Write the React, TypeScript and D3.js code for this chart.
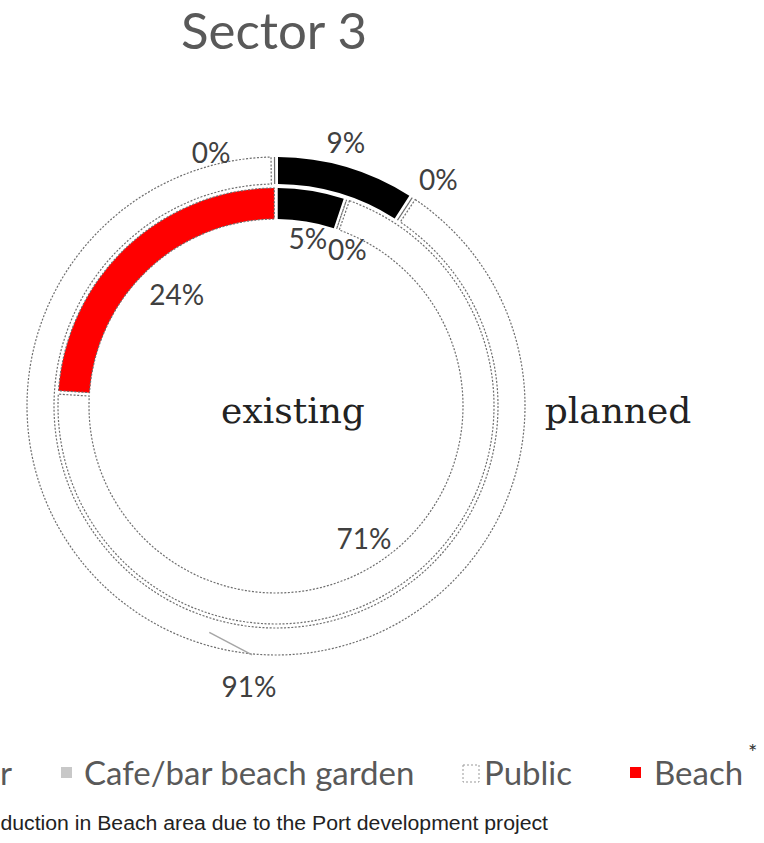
import * as d3 from "d3";

const categories = ["Bar", "Cafe/bar beach garden", "Public", "Beach"];
const existing = [5, 0, 71, 24];
const planned = [9, 0, 91, 0];
const colors = ["#000000", "#c8c8c8", "#ffffff", "#ff0000"];

// label tweaks per slice: angle shift (deg) and radius
const innerLabelPos = [
  { da: 1.5, r: 171 },
  { da: 5.6, r: 172 },
  { da: 0, r: 159 },
  { da: 1.8, r: 150 },
];
const outerLabelPos = [
  { da: -1.6, r: 273 },
  { da: 2.4, r: 279 },
  { da: -10.7, r: 266 },
  { da: -14, r: 262 },
];

const W = 764;
const H = 843;
const cx = 276;
const cy = 406;

const pie = d3
  .pie<number>()
  .sort(null)
  .value((d) => d)
  .padAngle(0.012);

function Ring({ values, r0, r1, pos }: { values: number[]; r0: number; r1: number; pos: { da: number; r: number }[] }) {
  const arcs = pie(values);
  const arc = d3.arc<d3.PieArcDatum<number>>().innerRadius(r0).outerRadius(r1);
  const toRad = Math.PI / 180;
  return (
    <g>
      {arcs.map((a, i) => (
        <path
          key={"a" + i}
          d={arc(a) || ""}
          fill={colors[i]}
          stroke={i === 0 ? "none" : "#6e6e6e"}
          strokeWidth={1.2}
          strokeDasharray="2 1.6"
        />
      ))}
      {arcs.map((a, i) => {
        if (i === 2 && r1 > 240) return null;
        const mid = (a.startAngle + a.endAngle) / 2 + pos[i].da * toRad;
        const x = Math.sin(mid) * pos[i].r;
        const y = -Math.cos(mid) * pos[i].r;
        return (
          <text
            key={"t" + i}
            x={x}
            y={y}
            textAnchor="middle"
            dominantBaseline="central"
            fontSize={28}
            fill="#404040"
            fontFamily="Lato, 'Open Sans', sans-serif"
          >
            {values[i]}%
          </text>
        );
      })}
    </g>
  );
}

export default function App() {
  const outer = pie(planned);
  const pub = outer[2];
  const pubMid = (pub.startAngle + pub.endAngle) / 2;
  const labAng = 185.5 * (Math.PI / 180);
  const lx = (a: number, r: number) => Math.sin(a) * r;
  const ly = (a: number, r: number) => -Math.cos(a) * r;

  return (
    <svg
      width={W}
      height={H}
      style={{ position: "absolute", left: 0, top: 0, background: "#fff" }}
    >
      <text
        x={274}
        y={49}
        textAnchor="middle"
        fontSize={51}
        fill="#595959"
        fontFamily="Lato, 'Open Sans', sans-serif"
      >
        Sector 3
      </text>

      <g transform={`translate(${cx},${cy})`}>
        <Ring values={planned} r0={222} r1={249} pos={outerLabelPos} />
        <Ring values={existing} r0={187} r1={218} pos={innerLabelPos} />
        <line
          x1={lx(pubMid, 236)}
          y1={ly(pubMid, 236)}
          x2={lx(labAng, 250)}
          y2={ly(labAng, 250)}
          stroke="#a6a6a6"
          strokeWidth={1.5}
        />
        <text
          x={lx(labAng, 281)}
          y={ly(labAng, 281)}
          textAnchor="middle"
          dominantBaseline="central"
          fontSize={28}
          fill="#404040"
          fontFamily="Lato, 'Open Sans', sans-serif"
        >
          {planned[2]}%
        </text>
      </g>

      <text x={293} y={410} textAnchor="middle" dominantBaseline="central" fontSize={36} fill="#222" fontFamily="'DejaVu Serif', serif">
        existing
      </text>
      <text x={618} y={410} textAnchor="middle" dominantBaseline="central" fontSize={36} fill="#222" fontFamily="'DejaVu Serif', serif">
        planned
      </text>

      {/* legend */}
      <g fontFamily="Lato, 'Open Sans', sans-serif" fontSize={33} fill="#595959">
        <rect x={-40} y={767} width={11} height={11} fill={colors[0]} />
        <text x={12} y={785} textAnchor="end">{categories[0]}</text>
        <rect x={61} y={767} width={11} height={11} fill={colors[1]} />
        <text x={84} y={785}>{categories[1]}</text>
        <rect x={463} y={765} width={16} height={17} fill="#fff" stroke="#999" strokeWidth={1} strokeDasharray="2 2" />
        <text x={484} y={785}>{categories[2]}</text>
        <rect x={630} y={767} width={11} height={11} fill={colors[3]} />
        <text x={654} y={785}>{categories[3]}</text>
        <text x={748} y={760} fontSize={22} fill="#333">*</text>
      </g>
      <text
        x={-35}
        y={830}
        textLength={583}
        lengthAdjust="spacingAndGlyphs"
        fontSize={20}
        fill="#222"
        fontFamily="'Liberation Sans', Arial, sans-serif"
      >
        *Reduction in Beach area due to the Port development project
      </text>
    </svg>
  );
}
